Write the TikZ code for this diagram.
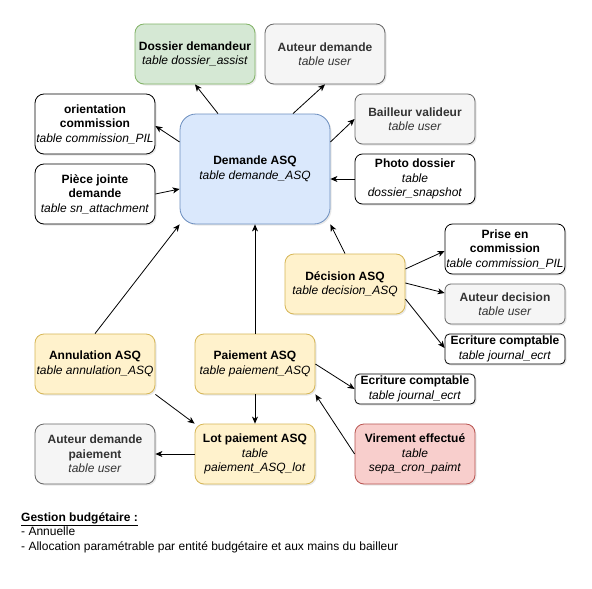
\documentclass[tikz,border=0pt]{standalone}
\usepackage{fontspec}
\setmainfont{Liberation Sans}
\usetikzlibrary{arrows.meta,shadows}
\definecolor{greenF}{HTML}{D5E8D4}\definecolor{greenD}{HTML}{82B366}
\definecolor{grayF}{HTML}{F5F5F5}\definecolor{grayD}{HTML}{666666}\definecolor{grayT}{HTML}{333333}
\definecolor{blueF}{HTML}{DAE8FC}\definecolor{blueD}{HTML}{6C8EBF}
\definecolor{yelF}{HTML}{FFF2CC}\definecolor{yelD}{HTML}{D6B656}
\definecolor{redF}{HTML}{F8CECC}\definecolor{redD}{HTML}{B85450}
\tikzset{
  box/.style={draw, line width=0.8pt, rectangle, minimum width=120pt, inner sep=0pt,
    align=center, font=\fontsize{12}{14.5}\selectfont,
    drop shadow={opacity=0.18, shadow xshift=1.5pt, shadow yshift=-1.5pt}},
  h60/.style={minimum height=60pt, rounded corners=9pt},
  h50/.style={minimum height=50pt, rounded corners=7.5pt},
  h40/.style={minimum height=40pt, rounded corners=6pt},
  h30/.style={minimum height=30pt, rounded corners=4.5pt},
  whitebox/.style={box, fill=white, draw=black},
  graybox/.style={box, fill=grayF, draw=grayD, text=grayT},
  yelbox/.style={box, fill=yelF, draw=yelD},
  greenbox/.style={box, fill=greenF, draw=greenD},
  redbox/.style={box, fill=redF, draw=redD},
  conn/.style={draw, line width=0.8pt, -{Stealth[length=7pt,width=6pt,inset=2pt]}},
}
\begin{document}
\begin{tikzpicture}[x=1pt,y=-1pt]
\useasboundingbox[fill=white] (0,0) rectangle (592,589);
\node[greenbox,h60] (dossier) at (195,54) {\textbf{Dossier demandeur}\\\textit{table dossier\_assist}};
\node[graybox,h60] (auteurd) at (325,54) {\textbf{Auteur demande}\\\textit{table user}};
\node[whitebox,h60] (orient) at (95,124) {\textbf{orientation}\\\textbf{commission}\\\textit{table commission\_PIL}};
\node[whitebox,h60] (piece) at (95,194) {\textbf{Pièce jointe}\\\textbf{demande}\\\textit{table sn\_attachment}};
\node[box, fill=blueF, draw=blueD, minimum width=150pt, minimum height=110pt, rounded corners=16pt] (demande) at (255,169) {\textbf{Demande ASQ}\\\textit{table demande\_ASQ}};
\node[graybox,h50] (bailleur) at (415,119) {\textbf{Bailleur valideur}\\\textit{table user}};
\node[whitebox,h50] (photo) at (415,179) {\textbf{Photo dossier}\\\textit{table}\\\textit{dossier\_snapshot}};
\node[whitebox,h50] (prise) at (505,249) {\textbf{Prise en}\\\textbf{commission}\\\textit{table commission\_PIL}};
\node[yelbox,h60] (decision) at (345,284) {\textbf{Décision ASQ}\\\textit{table decision\_ASQ}};
\node[graybox,h40] (auteurdec) at (505,304) {\textbf{Auteur decision}\\\textit{table user}};
\node[whitebox,h30] (ecr1) at (505,349) {\textbf{Ecriture comptable}\\\textit{table journal\_ecrt}};
\node[yelbox,h60] (annul) at (95,364) {\textbf{Annulation ASQ}\\\textit{table annulation\_ASQ}};
\node[yelbox,h60] (paie) at (255,364) {\textbf{Paiement ASQ}\\\textit{table paiement\_ASQ}};
\node[whitebox,h30] (ecr2) at (415,389) {\textbf{Ecriture comptable}\\\textit{table journal\_ecrt}};
\node[graybox,h60] (auteurpaie) at (95,454) {\textbf{Auteur demande}\\\textbf{paiement}\\\textit{table user}};
\node[yelbox,h60] (lot) at (255,454) {\textbf{Lot paiement ASQ}\\\textit{table}\\\textit{paiement\_ASQ\_lot}};
\node[redbox,h60] (virement) at (415,454) {\textbf{Virement effectué}\\\textit{table}\\\textit{sepa\_cron\_paimt}};

\draw[conn] ([xshift=-37pt]demande.north) -- (dossier.south);
\draw[conn] ([xshift=38pt]demande.north) -- (auteurd.south);
\draw[conn] ([yshift=27pt]demande.west) -- ([yshift=-2pt]orient.east);
\draw[conn] (piece.east) -- ([yshift=-20pt]demande.west);
\draw[conn] ([yshift=27pt]demande.east) -- (bailleur.west);
\draw[conn] (photo.west) -- ([yshift=-10pt]demande.east);
\draw[conn] (decision.north) -- (demande.south east);
\draw[conn] (annul.north) -- (demande.south west);
\draw[conn] (paie.north) -- (demande.south);
\draw[conn] ([yshift=15pt]decision.east) -- ([yshift=-2pt]prise.west);
\draw[conn] ([yshift=1pt]decision.east) -- ([yshift=11pt]auteurdec.west);
\draw[conn] ([yshift=-15pt]decision.east) -- ([yshift=1pt]ecr1.west);
\draw[conn] (paie.east) -- (ecr2.west);
\draw[conn] (virement.west) -- (paie.south east);
\draw[conn] (paie.south) -- (lot.north);
\draw[conn] (annul.south east) -- (lot.north west);
\draw[conn] (lot.west) -- (auteurpaie.east);

\node[anchor=north west, align=left, inner sep=0pt, font=\fontsize{12}{14.5}\selectfont] (note) at (21,512)
  {\textbf{\underline{Gestion budgétaire :}}\\- Annuelle\\- Allocation paramétrable par entité budgétaire et aux mains du bailleur};
\end{tikzpicture}
\end{document}
